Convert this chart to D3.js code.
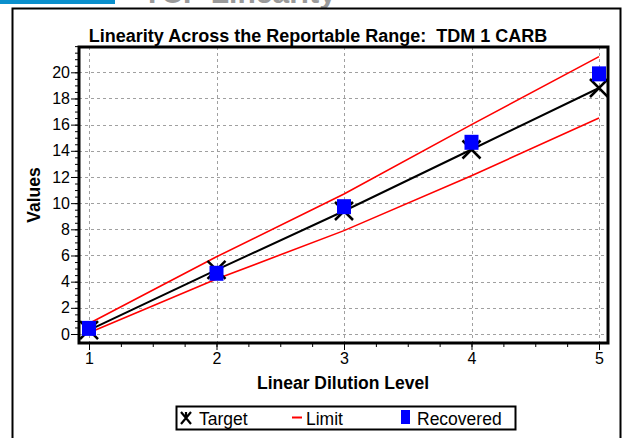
<!DOCTYPE html>
<html>
<head>
<meta charset="utf-8">
<script src="https://cdn.jsdelivr.net/npm/d3@7"></script>
<style>
  body { margin: 0; background: #fff; }
  text { font-family: "Liberation Sans", Arial, sans-serif; }
</style>
</head>
<body>
<div id="chart"></div>
<script>
// data
let levels = [1, 2, 3, 4, 5];
let target = [0.3, 4.9, 9.4, 14.1, 18.8];
let upperLimit = [0.8, 5.9, 10.7, 16.0, 21.2];
let lowerLimit = [0.1, 4.2, 7.9, 12.1, 16.5];
let recovered = [0.43, 4.64, 9.73, 14.65, 19.88];
let yTicks = [0, 2, 4, 6, 8, 10, 12, 14, 16, 18, 20];
let xTicks = [1, 2, 3, 4, 5];

function linearity_chart() {

    let W = 624, H = 438;
    let plot = {left: 79, top: 47, right: 608, bottom: 343};

    let svg = d3.select("#chart")
        .append("svg")
        .attr("width", W)
        .attr("height", H);

    // bits of the page header above the chart
    svg.append("rect")
        .attr("x", 0).attr("y", 0)
        .attr("width", 115).attr("height", 4)
        .attr("fill", "#0a8fcc");
    svg.append("text")
        .attr("x", 143).attr("y", 3)
        .attr("font-size", 30)
        .attr("font-weight", "bold")
        .attr("fill", "#9a9a9a")
        .text("TCP Linearity");

    // outer frame
    svg.append("rect")
        .attr("x", 12.5).attr("y", 8.5)
        .attr("width", 608).attr("height", 440)
        .attr("fill", "#fff")
        .attr("stroke", "#000")
        .attr("stroke-width", 2);

    let x = d3.scaleLinear()
        .domain([1, 5])
        .range([89, 599]);

    let y = d3.scaleLinear()
        .domain([0, 20])
        .range([334, 72.3]);

    // grid
    let grid = svg.append("g")
        .attr("stroke", "#a0a0a0")
        .attr("stroke-width", 1)
        .attr("stroke-dasharray", "3,3");
    grid.selectAll("line.gx")
        .data(xTicks)
        .enter()
        .append("line")
        .attr("x1", d => Math.round(x(d)) + 0.5)
        .attr("x2", d => Math.round(x(d)) + 0.5)
        .attr("y1", plot.top)
        .attr("y2", plot.bottom);
    grid.selectAll("line.gy")
        .data(yTicks)
        .enter()
        .append("line")
        .attr("y1", d => Math.round(y(d)) + 0.5)
        .attr("y2", d => Math.round(y(d)) + 0.5)
        .attr("x1", plot.left)
        .attr("x2", plot.right);

    // Y axis
    let yMinor = d3.range(0, 22.01, 0.5);
    let yAxis = svg.append("g")
        .attr("transform", "translate(" + plot.left + ",0)")
        .call(d3.axisLeft(y).tickValues(yMinor).tickSize(4).tickFormat(""));
    yAxis.select(".domain").remove();
    let yAxisMajor = svg.append("g")
        .attr("transform", "translate(" + plot.left + ",0)")
        .call(d3.axisLeft(y).tickValues(yTicks).tickSize(8).tickPadding(1).tickFormat(d3.format("d")));
    yAxisMajor.select(".domain").remove();
    yAxisMajor.selectAll("text")
        .attr("font-size", 16)
        .attr("fill", "#000")
        .style("font-family", "Liberation Sans, Arial, sans-serif");

    // X axis
    let xMinor = d3.range(1, 5.01, 0.25);
    let xAxis = svg.append("g")
        .attr("transform", "translate(0," + plot.bottom + ")")
        .call(d3.axisBottom(x).tickValues(xMinor).tickSize(4).tickFormat(""));
    xAxis.select(".domain").remove();
    let xAxisMajor = svg.append("g")
        .attr("transform", "translate(0," + plot.bottom + ")")
        .call(d3.axisBottom(x).tickValues(xTicks).tickSize(7).tickPadding(3).tickFormat(d3.format("d")));
    xAxisMajor.select(".domain").remove();
    xAxisMajor.selectAll("text")
        .attr("font-size", 16)
        .attr("fill", "#000")
        .style("font-family", "Liberation Sans, Arial, sans-serif");

    svg.append("clipPath").attr("id", "plotclip")
        .append("rect")
        .attr("x", plot.left).attr("y", plot.top)
        .attr("width", plot.right - plot.left)
        .attr("height", plot.bottom - plot.top);

    let g = svg.append("g").attr("clip-path", "url(#plotclip)");

    let line = d3.line()
        .x((d, i) => x(levels[i]))
        .y(d => y(d));

    // limit lines
    [upperLimit, lowerLimit].forEach(function (s) {
        g.append("path")
            .datum(s)
            .attr("d", line)
            .attr("fill", "none")
            .attr("stroke", "#ff0000")
            .attr("stroke-width", 1.6);
    });

    // target line
    g.append("path")
        .datum(target)
        .attr("d", line)
        .attr("fill", "none")
        .attr("stroke", "#000")
        .attr("stroke-width", 2);

    // target markers
    g.selectAll("path.cross")
        .data(target)
        .enter()
        .append("path")
        .attr("d", "M-9,-9L9,9M-9,9L9,-9")
        .attr("transform", (d, i) => "translate(" + x(levels[i]) + "," + y(d) + ")")
        .attr("stroke", "#000")
        .attr("stroke-width", 2.5);

    // recovered squares
    g.selectAll("rect.rec")
        .data(recovered)
        .enter()
        .append("rect")
        .attr("x", (d, i) => x(levels[i]) - 7)
        .attr("y", d => y(d) - 7.5)
        .attr("width", 14)
        .attr("height", 15)
        .attr("fill", "#0000ff");

    // plot border
    svg.append("rect")
        .attr("x", plot.left).attr("y", plot.top)
        .attr("width", plot.right - plot.left)
        .attr("height", plot.bottom - plot.top)
        .attr("fill", "none")
        .attr("stroke", "#000")
        .attr("stroke-width", 3);

    // titles
    svg.append("text")
        .attr("x", 318).attr("y", 42)
        .attr("text-anchor", "middle")
        .attr("font-size", 18)
        .attr("font-weight", "bold")
        .style("white-space", "pre")
        .text("Linearity Across the Reportable Range:  TDM 1 CARB");

    svg.append("text")
        .attr("x", 343).attr("y", 389)
        .attr("text-anchor", "middle")
        .attr("font-size", 17.5)
        .attr("font-weight", "bold")
        .text("Linear Dilution Level");

    svg.append("text")
        .attr("transform", "translate(40,195) rotate(-90)")
        .attr("text-anchor", "middle")
        .attr("font-size", 17.5)
        .attr("font-weight", "bold")
        .text("Values");

    // legend
    let lg = svg.append("g");
    lg.append("rect")
        .attr("x", 176.5).attr("y", 406.5)
        .attr("width", 339).attr("height", 23)
        .attr("fill", "#fff")
        .attr("stroke", "#000")
        .attr("stroke-width", 2);
    lg.append("path")
        .attr("d", "M181,412L191,424M181,424L191,412M186,412L186,418")
        .attr("stroke", "#000")
        .attr("stroke-width", 2.2);
    lg.append("text").attr("x", 199).attr("y", 425).attr("font-size", 17.5).text("Target");
    lg.append("line")
        .attr("x1", 292).attr("x2", 302)
        .attr("y1", 417.5).attr("y2", 417.5)
        .attr("stroke", "#ff0000").attr("stroke-width", 2);
    lg.append("text").attr("x", 306).attr("y", 425).attr("font-size", 17.5).text("Limit");
    lg.append("rect")
        .attr("x", 401).attr("y", 410)
        .attr("width", 9).attr("height", 14)
        .attr("fill", "#0000ff");
    lg.append("text").attr("x", 417).attr("y", 425).attr("font-size", 17.5).text("Recovered");
}

linearity_chart();
</script>
</body>
</html>
